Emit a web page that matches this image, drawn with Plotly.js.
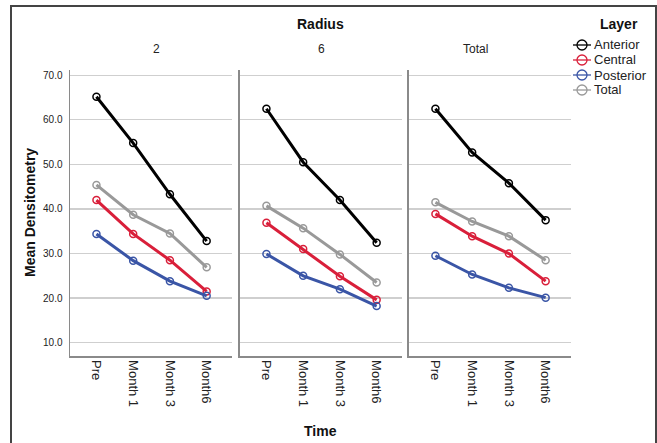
<!DOCTYPE html>
<html>
<head>
<meta charset="utf-8">
<script src="https://cdn.plot.ly/plotly-3.0.1.min.js"></script>
<style>html,body{margin:0;padding:0;background:#fff;}#chart{width:657px;height:443px;}</style>
</head>
<body>
<div id="chart"></div>
<script>
// Categories and panels
const timePoints = ['Pre', 'Month 1', 'Month 3', 'Month6'];
const radiusPanels = ['2', '6', 'Total'];
const layers = ['Anterior', 'Central', 'Posterior', 'Total'];
const layerColors = ['#000000', '#d91f3a', '#3a55a6', '#999999'];

// Mean densitometry values: [panel][layer]
const radius2_anterior  = [65.2, 54.8, 43.3, 32.8];
const radius2_central   = [42.0, 34.4, 28.5, 21.5];
const radius2_posterior = [34.4, 28.4, 23.8, 20.5];
const radius2_total     = [45.4, 38.7, 34.5, 26.9];

const radius6_anterior  = [62.5, 50.5, 42.0, 32.4];
const radius6_central   = [36.9, 31.0, 24.9, 19.6];
const radius6_posterior = [29.9, 25.0, 22.0, 18.2];
const radius6_total     = [40.7, 35.7, 29.8, 23.5];

const radiusT_anterior  = [62.5, 52.7, 45.8, 37.5];
const radiusT_central   = [38.9, 33.9, 30.0, 23.8];
const radiusT_posterior = [29.5, 25.3, 22.3, 20.1];
const radiusT_total     = [41.5, 37.2, 33.9, 28.5];

const yTicks = [10, 20, 30, 40, 50, 60, 70];

const panelData = [
  [radius2_anterior, radius2_central, radius2_posterior, radius2_total],
  [radius6_anterior, radius6_central, radius6_posterior, radius6_total],
  [radiusT_anterior, radiusT_central, radiusT_posterior, radiusT_total]
];

const font = 'Liberation Sans, Arial, sans-serif';
const W = 657, H = 443;
const ML = 70, MR = 86, MT = 70, MB = 87;
const PW = W - ML - MR, PH = H - MT - MB;
const px = v => (v - ML) / PW;          // pixel x -> paper x
const py = v => (H - MB - v) / PH;      // pixel y -> paper y

const traces = [];
panelData.forEach((panel, p) => {
  panel.forEach((vals, l) => {
    traces.push({
      type: 'scatter', mode: 'lines+markers',
      x: timePoints, y: vals,
      name: layers[l],
      showlegend: false,
      xaxis: p === 0 ? 'x' : 'x' + (p + 1),
      yaxis: p === 0 ? 'y' : 'y' + (p + 1),
      line: {color: layerColors[l], width: 3},
      marker: {symbol: 'circle-open', size: 7, color: layerColors[l], line: {width: 1.5, color: layerColors[l]}}
    });
  });
});

const domains = [[0, 0.3234], [0.3393, 0.6627], [0.6766, 1]];
const layout = {
  width: W, height: H,
  margin: {l: ML, r: MR, t: MT, b: MB, autoexpand: false},
  paper_bgcolor: '#ffffff', plot_bgcolor: '#ffffff',
  font: {family: font, color: '#222'},
  showlegend: false,
  annotations: [
    {text: '<b>Radius</b>', xref: 'paper', yref: 'paper', x: 0.5, y: py(24), showarrow: false, font: {size: 14, color: '#111'}, yanchor: 'middle'},
    {text: '<b>Mean Densitometry</b>', xref: 'paper', yref: 'paper', x: px(30), y: 0.5, textangle: -90, showarrow: false, font: {size: 14, color: '#111'}, xanchor: 'center', yanchor: 'middle'},
    {text: '<b>Time</b>', xref: 'paper', yref: 'paper', x: 0.5, y: py(431), showarrow: false, font: {size: 14, color: '#111'}, yanchor: 'middle'},
    {text: '<b>Layer</b>', xref: 'paper', yref: 'paper', x: px(619), y: py(24), showarrow: false, font: {size: 14, color: '#111'}, xanchor: 'center', yanchor: 'middle'}
  ],
  shapes: [
    {type: 'rect', xref: 'paper', yref: 'paper', x0: px(11), x1: px(656), y0: py(470), y1: py(6), line: {color: '#444', width: 2}, fillcolor: 'rgba(0,0,0,0)', layer: 'below'}
  ]
};

// Legend (drawn as key glyphs + labels)
const legendRows = [45, 60, 75, 90];
layers.forEach((name, l) => {
  const yy = py(legendRows[l]);
  layout.shapes.push({type: 'line', xref: 'paper', yref: 'paper', x0: px(573), x1: px(591), y0: yy, y1: yy, line: {color: layerColors[l], width: 1.3}});
  layout.shapes.push({type: 'circle', xref: 'paper', yref: 'paper', xsizemode: 'pixel', ysizemode: 'pixel', xanchor: px(582), yanchor: yy, x0: -5, x1: 5, y0: -5, y1: 5, line: {color: layerColors[l], width: 1.3}, fillcolor: 'rgba(255,255,255,0)'});
  layout.annotations.push({text: name, xref: 'paper', yref: 'paper', x: px(592), y: yy, xanchor: 'left', yanchor: 'middle', showarrow: false, font: {size: 13, color: '#222'}});
});

radiusPanels.forEach((name, p) => {
  const xk = p === 0 ? 'xaxis' : 'xaxis' + (p + 1);
  const yk = p === 0 ? 'yaxis' : 'yaxis' + (p + 1);
  layout[xk] = {
    domain: domains[p], anchor: p === 0 ? 'y' : 'y' + (p + 1),
    type: 'category', range: [-0.72, 3.69],
    showgrid: false, zeroline: false,
    showline: true, linecolor: '#8a8a8a', linewidth: 1.5,
    ticks: '', tickangle: 90, tickfont: {size: 13, color: '#222'},
    fixedrange: true
  };
  layout[yk] = {
    anchor: p === 0 ? 'x' : 'x' + (p + 1),
    range: [7.0, 71.2], tickvals: yTicks, tickformat: '.1f',
    showgrid: true, gridcolor: '#cfcfcf', gridwidth: 1.2,
    zeroline: false, showline: true, linecolor: '#8a8a8a', linewidth: 1.5,
    ticks: '', showticklabels: p === 0,
    tickfont: {size: 10, color: '#222'}, ticklabelstandoff: 4,
    fixedrange: true
  };
  layout.annotations.push({
    text: name, xref: 'paper', yref: 'paper',
    x: (domains[p][0] + domains[p][1]) / 2, y: py(49),
    showarrow: false, font: {size: 12, color: '#222'}, yanchor: 'middle'
  });
});

Plotly.newPlot('chart', traces, layout, {displayModeBar: false, staticPlot: true});
</script>
</body>
</html>
